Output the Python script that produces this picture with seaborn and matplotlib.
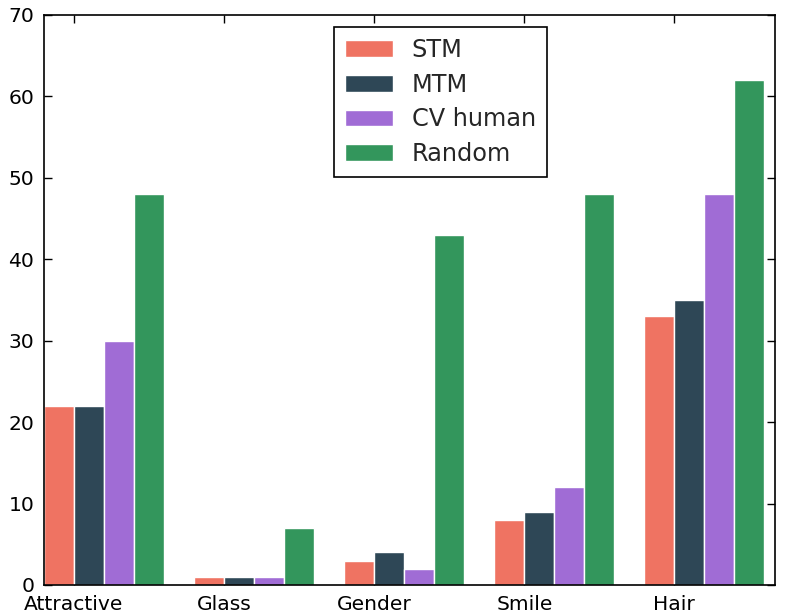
import matplotlib
matplotlib.use("Agg")
import matplotlib.pyplot as plt
import seaborn as sns
import pandas as pd
from matplotlib.patches import Patch

categories = ["Attractive", "Glass", "Gender", "Smile", "Hair"]
series = ["STM", "MTM", "CV human", "Random"]
stm = [22, 1, 3, 8, 33]
mtm = [22, 1, 4, 9, 35]
cv_human = [30, 1, 2, 12, 48]
random_ = [48, 7, 43, 48, 62]
colors = ["#EF7362", "#2E4756", "#A06CD5", "#33965C"]
yticks = [0, 10, 20, 30, 40, 50, 60, 70]

sns.set_style("ticks")
plt.rcParams['font.family'] = ['DejaVu Sans']

rows = []
for name, vals in zip(series, [stm, mtm, cv_human, random_]):
    for c, v in zip(categories, vals):
        rows.append({"cat": c, "series": name, "value": v})
df = pd.DataFrame(rows)

fig = plt.figure(figsize=(7.87, 6.14), dpi=100)
ax = fig.add_axes([44/787, 29/614, 731/787, 570/614])

sns.barplot(data=df, x="cat", y="value", hue="series", order=categories,
            hue_order=series, palette=colors, saturation=1, width=0.8,
            edgecolor="white", linewidth=1, errorbar=None, ax=ax, legend=False)

ax.set_xlim(-0.4, 4.47)
ax.set_ylim(0, 70)
ax.set_yticks(yticks)
ax.set_xticks([i - 0.2 for i in range(len(categories))])
ax.set_xticklabels(categories)
ax.set_xlabel("")
ax.set_ylabel("")
for s in ax.spines.values():
    s.set_visible(True)
    s.set_color("black")
    s.set_linewidth(1.2)
ax.tick_params(direction="in", top=True, right=True, length=6, width=1,
               labelsize=14.6, pad=7, colors="black")

handles = [Patch(facecolor=c, edgecolor="white", label=s) for c, s in zip(colors, series)]
leg = ax.legend(handles=handles, loc="upper center", bbox_to_anchor=(0.542, 1 - 12/570),
                borderaxespad=0, fontsize=17.3, fancybox=False, framealpha=1,
                edgecolor="black", handlelength=2.0, labelspacing=0.45,
                borderpad=0.45, handletextpad=0.8)
leg.get_frame().set_linewidth(1.2)

fig.savefig("out.png", dpi=100)
